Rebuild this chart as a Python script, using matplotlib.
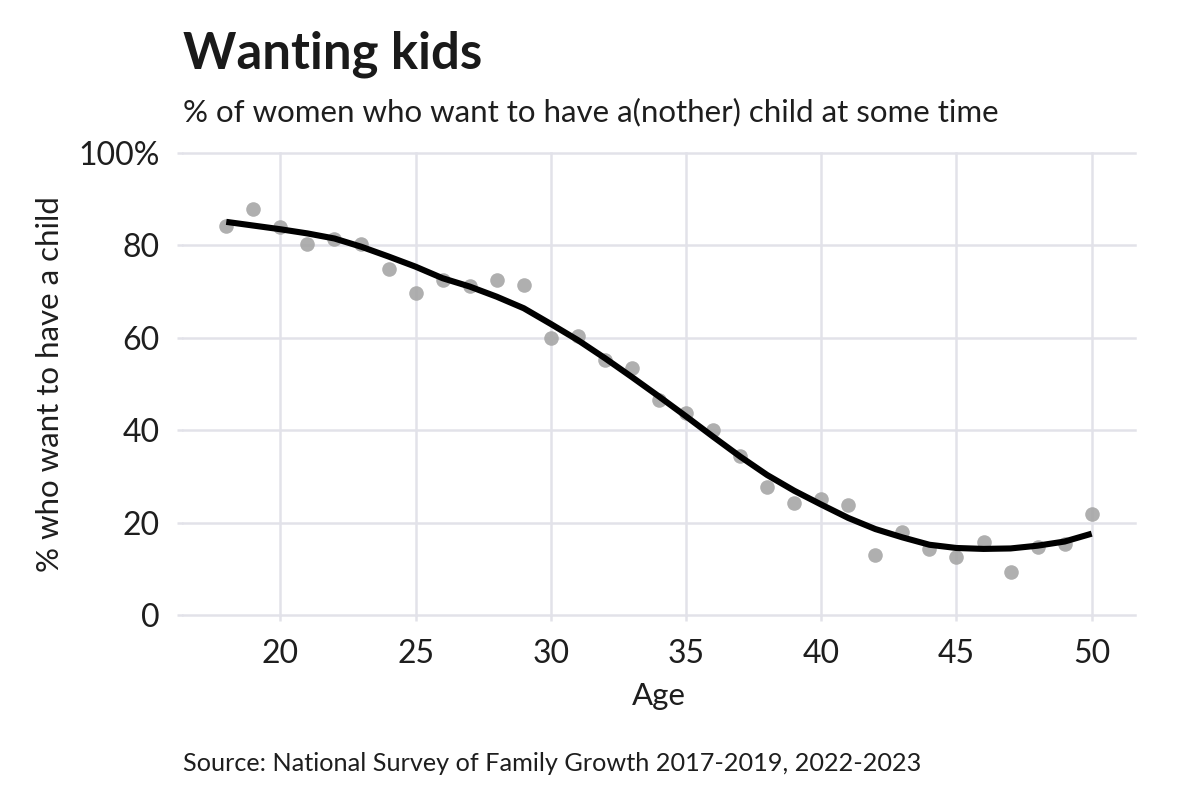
import matplotlib.pyplot as plt

# survey share (%) of women who want a(nother) child, by age
ages = [18, 19, 20, 21, 22, 23, 24, 25, 26, 27, 28, 29, 30, 31, 32, 33, 34,
	35, 36, 37, 38, 39, 40, 41, 42, 43, 44, 45, 46, 47, 48, 49, 50]
pct_want = [84.2, 87.8, 84.0, 80.4, 81.3, 80.2, 74.8, 69.6, 72.5, 71.2, 72.5, 71.4,
	59.9, 60.4, 55.2, 53.4, 46.5, 43.7, 40.0, 34.4, 27.6, 24.2, 25.0, 23.9,
	13.0, 17.9, 14.2, 12.5, 15.9, 9.2, 14.8, 15.3, 21.8]

# smoothed trend at each age
smooth = [85.1, 84.3, 83.5, 82.6, 81.5, 79.7, 77.6, 75.4, 72.9, 71.1, 68.9, 66.4,
	63.0, 59.5, 55.6, 51.5, 47.3, 43.0, 38.6, 34.3, 30.3, 26.9, 23.9, 21.0,
	18.6, 16.8, 15.2, 14.5, 14.3, 14.4, 15.0, 15.9, 17.6]

yticks = [0, 20, 40, 60, 80, 100]
ytick_labels = ['0', '20', '40', '60', '80', '100%']
xticks = [20, 25, 30, 35, 40, 45, 50]

plt.rcParams['font.family'] = ['Lato', 'DejaVu Sans']
grid_col = '#e2e2e9'
text_col = '#1e1e1e'

fig = plt.figure(figsize=(12, 8.08), dpi=100)
ax = fig.add_axes([0.1525, 0.2389, 0.7933, 0.5717])

ax.scatter(ages, pct_want, s=110, color='#a6a6a6', alpha=0.9, linewidths=0, zorder=3)
ax.plot(ages, smooth, color='black', linewidth=4.4, solid_capstyle='butt', zorder=4)

ax.set_xlim(16.4, 51.6)
ax.set_ylim(0, 100)
ax.set_xticks(xticks)
ax.set_yticks(yticks)
ax.set_yticklabels(ytick_labels)
ax.grid(True, color=grid_col, linewidth=1.8)
ax.set_axisbelow(True)
# keep the 0 and 100 gridlines from being cut in half at the edge
for gl in ax.get_xgridlines() + ax.get_ygridlines():
	gl.set_clip_on(False)
for s in ax.spines.values():
	s.set_visible(False)
ax.tick_params(axis='both', length=4, width=1.8, color=grid_col,
	labelsize=23, labelcolor=text_col, pad=13)

ax.set_xlabel('Age', fontsize=22.5, color=text_col, labelpad=10)
ax.set_ylabel('% who want to have a child', fontsize=22.5, color=text_col, labelpad=10)

fig.text(183 / 1200, 1 - 68 / 808, 'Wanting kids', fontsize=36.6, fontweight='bold',
	color='#1a1a1a', va='baseline', ha='left')
fig.text(183 / 1200, 1 - 121 / 808, '% of women who want to have a(nother) child at some time',
	fontsize=22.5, color=text_col, va='baseline', ha='left')
fig.text(183 / 1200, 1 - 771 / 808, 'Source: National Survey of Family Growth 2017-2019, 2022-2023',
	fontsize=18.2, color=text_col, va='baseline', ha='left')

fig.savefig('out.png', dpi=100, facecolor='white')
